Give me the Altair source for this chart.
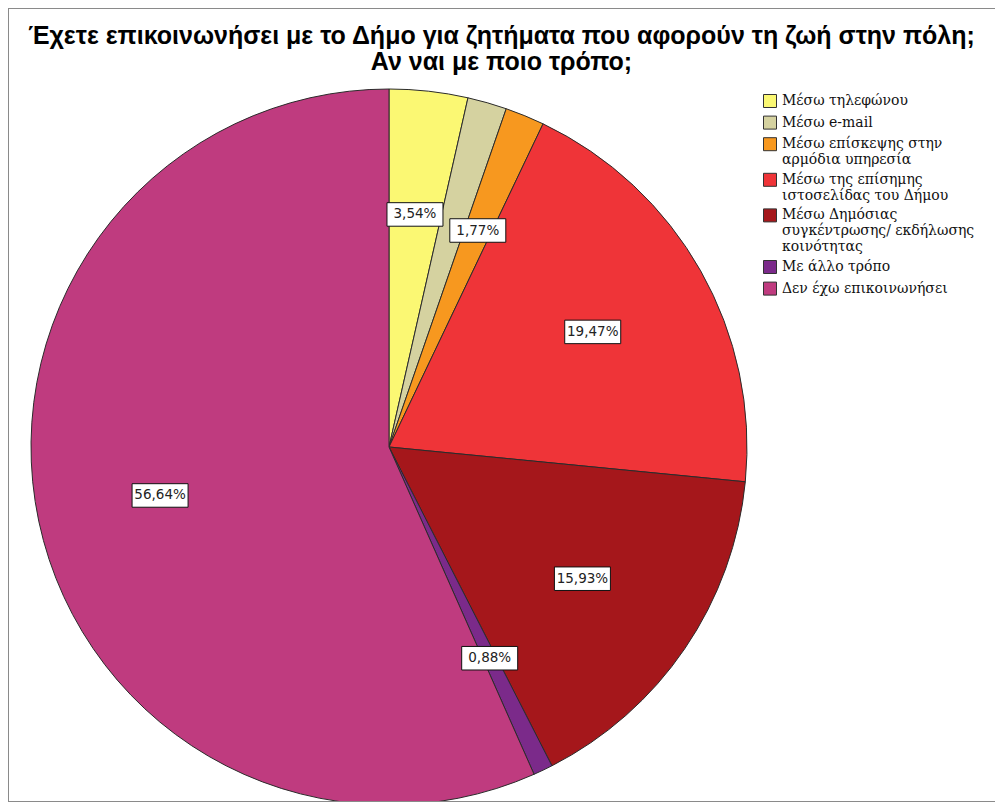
import altair as alt
import pandas as pd

categories = [
    "Μέσω τηλεφώνου",
    "Μέσω e-mail",
    "Μέσω επίσκεψης στην\nαρμόδια υπηρεσία",
    "Μέσω της επίσημης\nιστοσελίδας του Δήμου",
    "Μέσω Δημόσιας\nσυγκέντρωσης/ εκδήλωσης\nκοινότητας",
    "Με άλλο τρόπο",
    "Δεν έχω επικοινωνήσει",
]
percentages = [3.54, 1.77, 1.77, 19.47, 15.93, 0.88, 56.64]
show_label = [1, 0, 1, 1, 1, 1, 1]
colors = ["#fbf873", "#d5d2a0", "#f7981f", "#ef3438", "#a5171b", "#7b2a8a", "#bf3b7f"]
title_lines = [
    "Έχετε επικοινωνήσει με το Δήμο για ζητήματα που αφορούν τη ζωή στην πόλη;",
    "Αν ναι με ποιο τρόπο;",
]

df = pd.DataFrame({
    "category": categories,
    "value": percentages,
    "order": list(range(len(categories))),
    "show": show_label,
})

W, H = 987, 794
CX, CY, R, LR = 381, 439, 358, 234

color = alt.Color(
    "category:N",
    scale=alt.Scale(domain=categories, range=colors),
    sort=categories,
    legend=alt.Legend(
        title=None,
        orient="none",
        legendX=755,
        legendY=86,
        labelFont="DejaVu Serif",
        labelFontSize=14,
        labelColor="#111",
        labelExpr="split(datum.label, '\\n')",
        symbolType="square",
        symbolSize=169,
        symbolStrokeColor="#333",
        symbolStrokeWidth=1,
        symbolOpacity=1,
        rowPadding=3.6,
        labelOffset=5,
        labelLimit=300,
    ),
)

pie = alt.Chart(df).mark_arc(stroke="#2b2b2b", strokeWidth=1, radius=R).encode(
    theta=alt.Theta("value:Q", stack=True),
    color=color,
    order=alt.Order("order:Q"),
    x=alt.value(CX),
    y=alt.value(CY),
)

lab_base = alt.Chart(df).transform_joinaggregate(
    total="sum(value)"
).transform_window(
    cum="sum(value)", sort=[alt.SortField("order")], frame=[None, 0]
).transform_calculate(
    px=f"{CX} + {LR} * sin((datum.cum - datum.value / 2) / datum.total * 2 * PI)",
    py=f"{CY} - {LR} * cos((datum.cum - datum.value / 2) / datum.total * 2 * PI)",
    lab="replace(format(datum.value, '.2f'), '.', ',') + '%'",
).transform_filter("datum.show == 1")

boxes = lab_base.mark_point(
    shape="M-1,-0.42H1V0.42H-1Z",
    size=3136,
    filled=True,
    fill="white",
    stroke="#111",
    strokeWidth=1,
    opacity=1,
).encode(
    x=alt.X("px:Q", scale=None, axis=None),
    y=alt.Y("py:Q", scale=None, axis=None),
)

texts = lab_base.mark_text(
    font="DejaVu Sans", fontSize=13.5, color="#222", baseline="middle", align="center"
).encode(
    x=alt.X("px:Q", scale=None, axis=None),
    y=alt.Y("py:Q", scale=None, axis=None),
    text="lab:N",
)

frame_src = alt.Chart(pd.DataFrame({"k": [0]}))
frame_top = frame_src.mark_rule(color="#8a8a8a", strokeWidth=1).encode(
    x=alt.value(0.5), x2=alt.value(W), y=alt.value(0.5)
)
frame_left = frame_src.mark_rule(color="#8a8a8a", strokeWidth=1).encode(
    x=alt.value(0.5), y=alt.value(0), y2=alt.value(H)
)
frame_bottom = frame_src.mark_rule(color="#8a8a8a", strokeWidth=1).encode(
    x=alt.value(0), x2=alt.value(W), y=alt.value(H - 0.5)
)

chart = alt.layer(pie, boxes, texts, frame_top, frame_left, frame_bottom).properties(
    width=W,
    height=H,
    title=alt.TitleParams(
        text=title_lines,
        font="Liberation Sans",
        fontSize=25,
        fontWeight="bold",
        color="#000",
        anchor="middle",
        lineHeight=26,
        offset=-67,
    ),
    padding=0,
    autosize=alt.AutoSizeParams(type="none"),
).configure_view(stroke=None)

chart.save("out.html", embed_options={"renderer": "svg", "actions": False})
